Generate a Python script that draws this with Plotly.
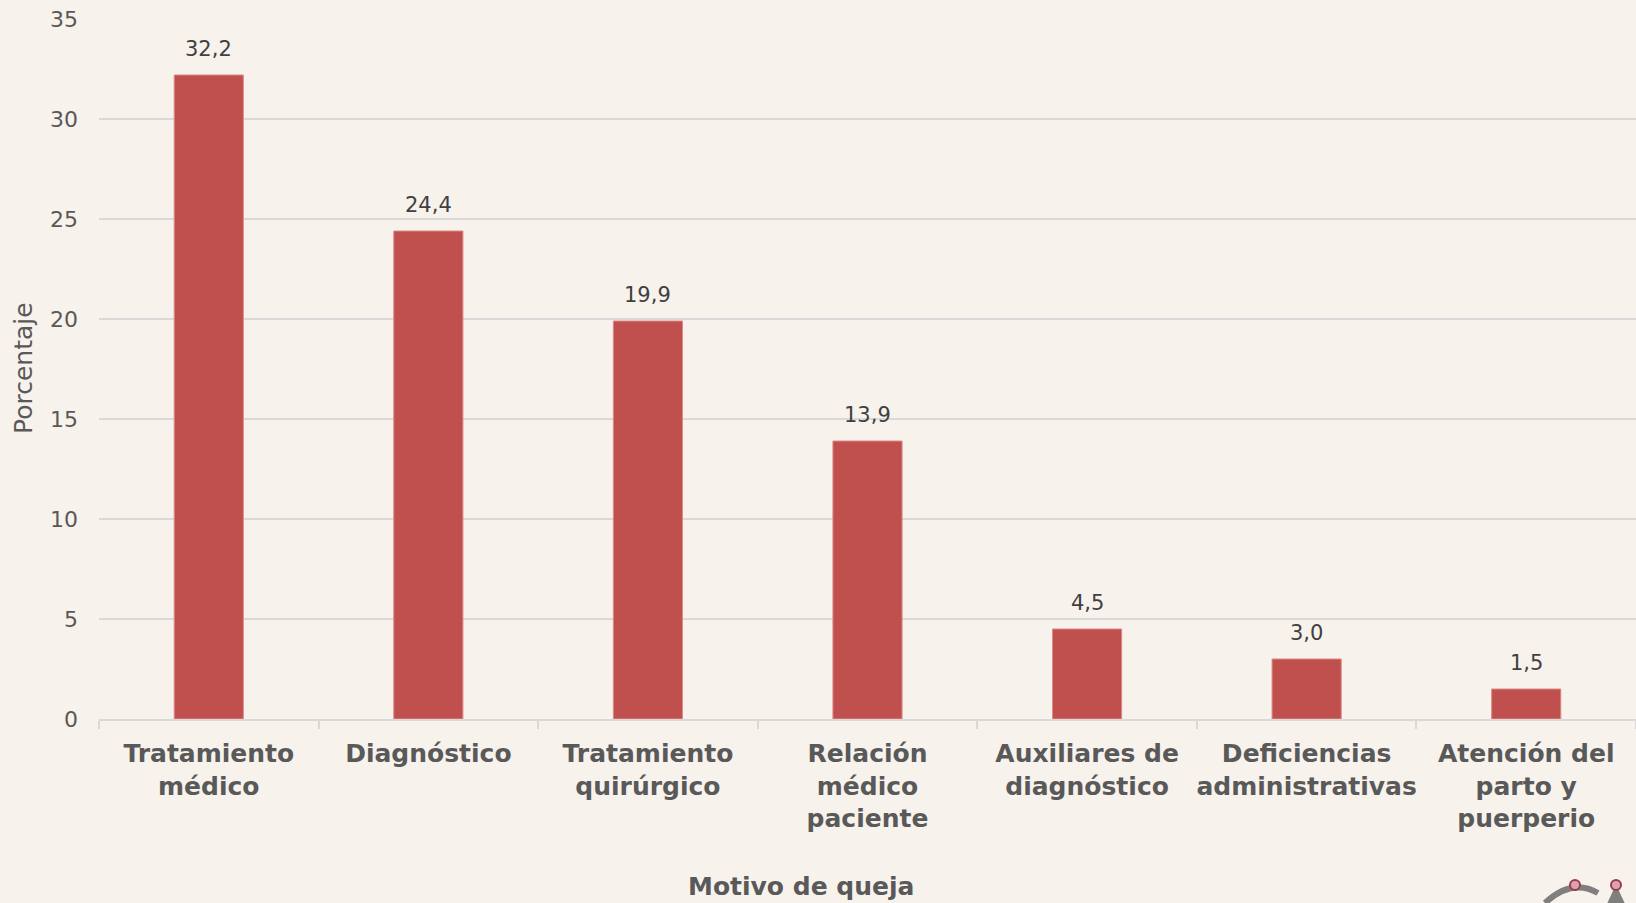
"""
Motivo de queja - porcentaje por categoría
"""
import plotly.graph_objects as go

categorias = [
    'Tratamiento<br>médico',
    'Diagnóstico',
    'Tratamiento<br>quirúrgico',
    'Relación<br>médico<br>paciente',
    'Auxiliares de<br>diagnóstico',
    'Deficiencias<br>administrativas',
    'Atención del<br>parto y<br>puerperio',
]
porcentajes = [32.2, 24.4, 19.9, 13.9, 4.5, 3.0, 1.5]
ticks_y = [0, 5, 10, 15, 20, 25, 30, 35]

FONDO = '#F7F2EC'
ROJO = '#C0504D'
GRIS = '#D9D9D9'
FUENTE = 'DejaVu Sans'

W, H = 1636, 903
M_L, M_R, M_T, M_B = 99, 0, 19, 184


def px(x, y):
    """Pixel de la imagen -> coordenadas paper"""
    ancho = W - M_L - M_R
    alto = H - M_T - M_B
    return (x - M_L) / ancho, (H - M_B - y) / alto


fig = go.Figure(data=[
    go.Bar(
        x=categorias,
        y=porcentajes,
        width=0.315,
        marker=dict(color=ROJO, line=dict(color='#E08A88', width=1)),
        hovertemplate='%{y:.1f}<extra></extra>',
    )
])

# Etiquetas de valor encima de cada barra
etiquetas = [
    dict(
        x=c, y=v, xref='x', yref='y',
        text=f'{v:.1f}'.replace('.', ','),
        showarrow=False, yanchor='middle', yshift=26,
        font=dict(family=FUENTE, size=21, color='#404040'),
    )
    for c, v in zip(categorias, porcentajes)
]

# Títulos de ejes
titulos = [
    dict(
        text='<b>Motivo de queja</b>',
        xref='paper', yref='paper',
        x=px(801, 0)[0], y=px(0, 886)[1],
        xanchor='center', yanchor='middle',
        showarrow=False,
        font=dict(family=FUENTE, size=25, color='#595959'),
    ),
    dict(
        text='Porcentaje',
        xref='paper', yref='paper',
        x=px(23, 0)[0], y=px(0, 368)[1],
        xanchor='center', yanchor='middle',
        textangle=-90,
        showarrow=False,
        font=dict(family=FUENTE, size=25, color='#595959'),
    ),
]

# Fragmento del logotipo (esquina inferior derecha, recortado)
x0, y0 = px(1545, 903)
xc, yc = px(1572, 878)
x1, y1 = px(1598, 893)
logo = [
    dict(type='path', xref='paper', yref='paper',
         path=f'M {x0},{y0} Q {xc},{yc} {x1},{y1}',
         line=dict(color='#7F7F7F', width=6)),
    dict(type='path', xref='paper', yref='paper',
         path='M {},{} L {},{} L {},{} Z'.format(*px(1616, 888), *px(1609, 903), *px(1623, 903)),
         line=dict(color='#7F7F7F', width=3), fillcolor='#7F7F7F'),
]
for cx in (1575, 1616):
    a, b = px(cx - 5, 880)
    c, d = px(cx + 5, 890)
    logo.append(dict(type='circle', xref='paper', yref='paper',
                     x0=a, y0=b, x1=c, y1=d,
                     line=dict(color='#9E3A52', width=2), fillcolor='#D9A3B0'))

fig.update_layout(
    width=W,
    height=H,
    margin=dict(l=M_L, r=M_R, t=M_T, b=M_B),
    paper_bgcolor=FONDO,
    plot_bgcolor=FONDO,
    separators=', ',
    showlegend=False,
    font=dict(family=FUENTE, color='#595959'),
    annotations=etiquetas + titulos,
    shapes=logo,
)

fig.update_xaxes(
    tickfont=dict(family=FUENTE, size=25, color='#595959'),
    tickprefix='<b>', ticksuffix='</b>',
    tickangle=0,
    automargin=False,
    showline=True, linecolor=GRIS, linewidth=2,
    ticks='outside', tickcolor=GRIS, ticklen=8, tickwidth=2,
    tickson='boundaries',
    ticklabelstandoff=11,
    showgrid=False,
)

fig.update_yaxes(
    range=[0, 35],
    tickvals=ticks_y,
    automargin=False,
    tickfont=dict(family=FUENTE, size=22, color='#595959'),
    showgrid=True, gridcolor=GRIS, gridwidth=2,
    zeroline=False,
    ticklabelstandoff=20,
)

fig.write_html(
    'out.html',
    config={'displayModeBar': False},
    post_script="document.body.style.margin='0';document.body.style.background='#F7F2EC';",
)
